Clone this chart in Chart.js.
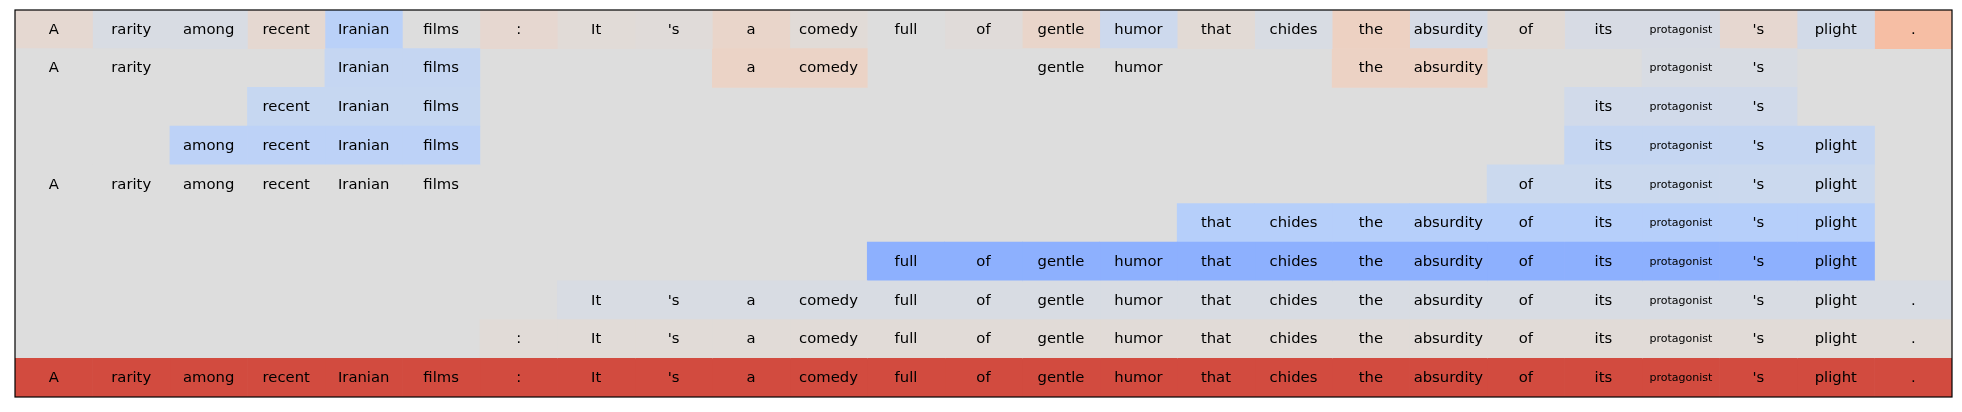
<!DOCTYPE html>
<html>
<head>
<meta charset="utf-8">
<script src="https://cdn.jsdelivr.net/npm/chart.js@4/dist/chart.umd.min.js"></script>
<style>
  html, body { margin: 0; padding: 0; background: #ffffff; }
  #wrap { width: 1962px; height: 412px; }
</style>
</head>
<body>
<div id="wrap"><canvas id="c" width="1962" height="412"></canvas></div>
<script>
// ---- data ----
const tokens = ["A","rarity","among","recent","Iranian","films",":","It","'s","a","comedy","full","of","gentle","humor","that","chides","the","absurdity","of","its","protagonist","'s","plight","."];
const rowLabels = ["0","1","2","3","4","5","6","7","8","9"];
const _ = null;
// colour-scale positions (0 = blue, 0.5 = neutral, 1 = red); null = no span
const row0 = [0.53,0.48,0.48,0.53,0.38,0.50,0.535,0.515,0.51,0.55,0.515,0.50,0.51,0.55,0.44,0.52,0.48,0.57,0.47,0.52,0.475,0.475,0.535,0.46,0.645];
const row1 = [0.50,0.50,_,_,0.415,0.415,_,_,_,0.56,0.56,_,_,0.50,0.50,_,_,0.565,0.565,_,_,0.48,0.48,_,_];
const row2 = [_,_,_,0.42,0.42,0.42,_,_,_,_,_,_,_,_,_,_,_,_,_,_,0.455,0.455,0.455,_,_];
const row3 = [_,_,0.39,0.39,0.39,0.39,_,_,_,_,_,_,_,_,_,_,_,_,_,_,0.415,0.415,0.415,0.415,_];
const row4 = [0.50,0.50,0.50,0.50,0.50,0.50,_,_,_,_,_,_,_,_,_,_,_,_,_,0.435,0.435,0.435,0.435,0.435,_];
const row5 = [_,_,_,_,_,_,_,_,_,_,_,_,_,_,_,0.37,0.37,0.37,0.37,0.37,0.37,0.37,0.37,0.37,_];
const row6 = [_,_,_,_,_,_,_,_,_,_,_,0.25,0.25,0.25,0.25,0.25,0.25,0.25,0.25,0.25,0.25,0.25,0.25,0.25,_];
const row7 = [_,_,_,_,_,_,_,0.48,0.48,0.48,0.48,0.48,0.48,0.48,0.48,0.48,0.48,0.48,0.48,0.48,0.48,0.48,0.48,0.48,0.48];
const row8 = [_,_,_,_,_,_,0.515,0.515,0.515,0.515,0.515,0.515,0.515,0.515,0.515,0.515,0.515,0.515,0.515,0.515,0.515,0.515,0.515,0.515,0.515];
const row9 = [0.915,0.915,0.915,0.915,0.915,0.915,0.915,0.915,0.915,0.915,0.915,0.915,0.915,0.915,0.915,0.915,0.915,0.915,0.915,0.915,0.915,0.915,0.915,0.915,0.915];
const rows = [row0,row1,row2,row3,row4,row5,row6,row7,row8,row9];

// ---- coolwarm colormap ----
const CW = [[59,76,192],[68,90,204],[77,104,215],[87,117,225],[98,130,234],[108,142,241],[119,154,247],[130,165,251],[141,176,254],[152,185,255],[163,194,255],[174,201,253],[184,208,249],[194,213,244],[204,217,238],[213,219,230],[221,221,221],[229,216,209],[236,211,197],[241,204,184],[245,196,172],[247,187,159],[247,177,147],[247,166,134],[244,154,123],[241,141,111],[236,127,99],[229,112,89],[222,96,77],[213,80,66],[203,62,56],[192,40,47],[180,4,38]];
function coolwarm(v) {
  const t = Math.max(0, Math.min(1, v)) * (CW.length - 1);
  const i = Math.min(CW.length - 2, Math.floor(t));
  const f = t - i;
  const c = CW[i].map((a, k) => Math.round(a + (CW[i + 1][k] - a) * f));
  return `rgb(${c[0]},${c[1]},${c[2]})`;
}

const datasets = tokens.map((tok, c) => ({
  label: tok,
  data: rows.map(r => r[c] == null ? null : [c, c + 1]),
  backgroundColor: rows.map(r => r[c] == null ? 'rgba(0,0,0,0)' : coolwarm(r[c])),
  borderWidth: 0,
  grouped: false,
  barPercentage: 1,
  categoryPercentage: 1
}));

const gridPlugin = {
  id: 'gridDeco',
  beforeDatasetsDraw(chart) {
    const { ctx, chartArea: a } = chart;
    ctx.save();
    ctx.fillStyle = coolwarm(0.5);
    ctx.fillRect(a.left, a.top, a.right - a.left, a.bottom - a.top);
    ctx.restore();
  },
  afterDatasetsDraw(chart) {
    const { ctx, chartArea: a } = chart;
    const xs = chart.scales.x, ys = chart.scales.y;
    ctx.save();
    ctx.fillStyle = '#000';
    ctx.textAlign = 'center';
    ctx.textBaseline = 'middle';
    rows.forEach((r, ri) => {
      r.forEach((v, ci) => {
        if (v == null) return;
        const tok = tokens[ci];
        ctx.font = (tok.length > 10 ? '11px' : '14.8px') + ' "DejaVu Sans"';
        ctx.fillText(tok, xs.getPixelForValue(ci + 0.5), ys.getPixelForValue(ri) + 0.5);
      });
    });
    ctx.strokeStyle = '#000';
    ctx.lineWidth = 1.2;
    ctx.strokeRect(a.left, a.top, a.right - a.left, a.bottom - a.top);
    ctx.restore();
  }
};

new Chart(document.getElementById('c'), {
  type: 'bar',
  data: { labels: rowLabels, datasets },
  options: {
    indexAxis: 'y',
    responsive: false,
    animation: false,
    layout: { padding: { left: 15, right: 10, top: 10, bottom: 15 } },
    plugins: { legend: { display: false }, tooltip: { enabled: false } },
    scales: {
      x: { type: 'linear', min: 0, max: tokens.length, display: false },
      y: { type: 'category', display: false, offset: true }
    }
  },
  plugins: [gridPlugin]
});
</script>
</body>
</html>
